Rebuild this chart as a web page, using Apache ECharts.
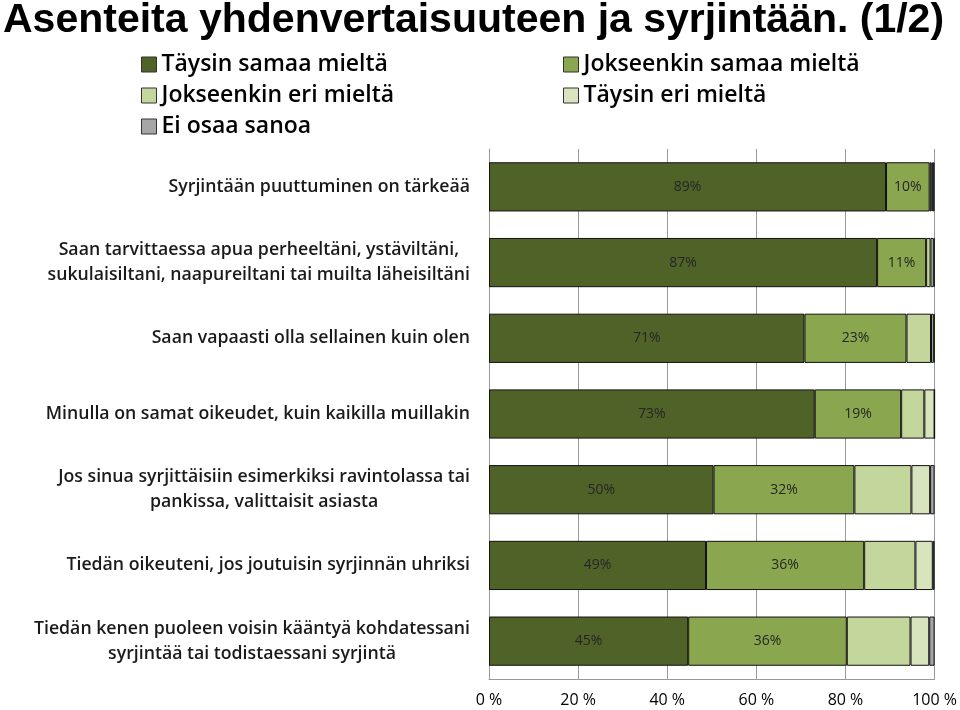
<!DOCTYPE html>
<html><head><meta charset="utf-8">
<script src="https://cdn.jsdelivr.net/npm/echarts@6/dist/echarts.min.js"></script>
<style>html,body{margin:0;padding:0;background:#fff}#c{width:960px;height:710px}</style>
</head><body><div id="c"></div>
<script>
var titleText = 'Asenteita yhdenvertaisuuteen ja syrjintään. (1/2)';
var categories = [
  'Syrjintään puuttuminen on tärkeää',
  'Saan tarvittaessa apua perheeltäni, ystäviltäni,\nsukulaisiltani, naapureiltani tai muilta läheisiltäni',
  'Saan vapaasti olla sellainen kuin olen',
  'Minulla on samat oikeudet, kuin kaikilla muillakin',
  'Jos sinua syrjittäisiin esimerkiksi ravintolassa tai\npankissa, valittaisit asiasta',
  'Tiedän oikeuteni, jos joutuisin syrjinnän uhriksi',
  'Tiedän kenen puoleen voisin kääntyä kohdatessani\nsyrjintää tai todistaessani syrjintä'
];
var seriesNames = ['Täysin samaa mieltä','Jokseenkin samaa mieltä','Jokseenkin eri mieltä','Täysin eri mieltä','Ei osaa sanoa'];
var taysinSamaa     = [89.1, 87.1, 70.8, 73.1, 50.4, 48.7, 44.7];
var jokseenkinSamaa = [9.8, 11.0, 22.9, 19.4, 31.6, 35.5, 35.6];
var jokseenkinEri   = [0.4, 1.0, 5.5, 5.2, 12.8, 11.5, 14.3];
var taysinEri       = [0.3, 0.7, 0.6, 2.3, 4.2, 3.9, 4.2];
var eiOsaa          = [0.4, 0.2, 0.2, 0.0, 1.0, 0.4, 1.2];
var seriesValues = [taysinSamaa, jokseenkinSamaa, jokseenkinEri, taysinEri, eiOsaa];
var colors = ['#4F6228','#8AA64E','#C3D69B','#D7E4BD','#A6A6A6'];
var labelled = [true, true, false, false, false];

var chart = echarts.init(document.getElementById('c'));
var series = seriesNames.map(function(n,i){
  return {
    name: n, type: 'bar', stack: 'all', barWidth: '65%',
    data: seriesValues[i],
    itemStyle: {color: colors[i], borderColor: '#111', borderWidth: 1},
    label: {show: labelled[i], position: 'inside', color: '#262626', fontFamily: 'Open Sans', fontSize: 14,
      formatter: function(p){ return Math.round(p.value) + '%'; }},
    emphasis: {disabled: true}
  };
});
var legendText = {fontFamily: 'Open Sans', fontWeight: 600, fontSize: 23, color: '#000'};
var catFont = {fontFamily: 'Open Sans', fontWeight: 600, fontSize: 17.7, color: '#1a1a1a', lineHeight: 25, align: 'center'};
chart.setOption({
  animation: false,
  title: {text: titleText, left: -2, top: -5,
    textStyle: {fontFamily: 'Liberation Sans', fontWeight: 'bold', fontSize: 41, color: '#000'}},
  legend: [
    {data: [seriesNames[0], seriesNames[2], seriesNames[4]], orient: 'vertical', left: 136, top: 48,
     itemWidth: 15, itemHeight: 15, itemGap: 8, icon: 'rect', textStyle: legendText, selectedMode: false,
     itemStyle: {borderColor: '#333', borderWidth: 1}},
    {data: [seriesNames[1], seriesNames[3]], orient: 'vertical', left: 558, top: 48,
     itemWidth: 15, itemHeight: 15, itemGap: 8, icon: 'rect', textStyle: legendText, selectedMode: false,
     itemStyle: {borderColor: '#333', borderWidth: 1}}
  ],
  grid: {left: 489, right: 24, top: 149, bottom: 31, containLabel: false},
  xAxis: {type: 'value', min: 0, max: 100, interval: 20,
    axisLabel: {formatter: '{value} %', fontFamily: 'Open Sans', fontSize: 16, color: '#000', margin: 13},
    axisLine: {show: true, lineStyle: {color: '#999'}},
    axisTick: {show: false},
    splitLine: {show: true, lineStyle: {color: '#999', width: 1}}},
  yAxis: {type: 'category', data: categories, inverse: true,
    axisLine: {show: true, lineStyle: {color: '#999'}},
    axisTick: {show: false},
    axisLabel: {margin: 19, align: 'right', fontFamily: 'Open Sans', fontWeight: 600, fontSize: 17.7, lineHeight: 25,
      formatter: function(v){ return v.split('\n').map(function(l){ return '{c|' + l + '}'; }).join('\n'); },
      rich: {c: catFont}}},
  series: series
});
</script></body></html>
